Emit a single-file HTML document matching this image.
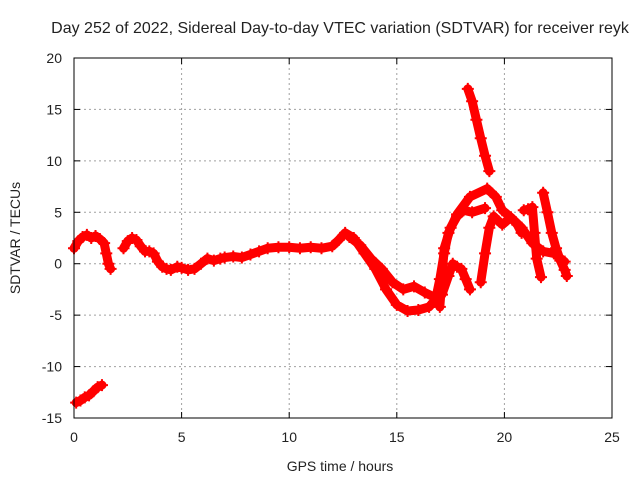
<!DOCTYPE html>
<html><head><meta charset="utf-8"><style>
body{margin:0;background:#fff;}
svg text{font-family:"Liberation Sans",Arial,sans-serif;font-size:14px;fill:#222;}
</style></head><body>
<svg id="chart" width="640" height="480">
<text x="340" y="33" text-anchor="middle" style="font-size:16px">Day 252 of 2022, Sidereal Day-to-day VTEC variation (SDTVAR) for receiver reyk</text>
<text x="340" y="471" text-anchor="middle">GPS time / hours</text>
<text transform="translate(20,238) rotate(-90)" text-anchor="middle">SDTVAR / TECUs</text>
<g id="grid"></g><g id="data"></g><g id="axes"></g>
</svg>
<script>
const xTicks=[0,5,10,15,20,25];
const yTicks=[-15,-10,-5,0,5,10,15,20];
const trackEarlyH=[0,0.2,0.4,0.6,0.8,1.0,1.2,1.4,1.5,1.6,1.7];
const trackEarlyV=[1.5,2.2,2.6,2.8,2.5,2.7,2.4,2.0,1.0,0,-0.5];
const trackMainH=[2.3,2.5,2.7,2.9,3.1,3.3,3.5,3.7,3.9,4.1,4.3,4.5,4.8,5.0,5.3,5.6,5.9,6.2,6.5,6.8,7.0,7.4,7.8,8.2,8.6,9.0,9.5,10,10.5,11,11.5,12,12.3,12.6,13.0,13.5,14.0,14.5,15.0,15.5,16.0,16.5,16.8,17.0,17.2,17.4,17.8,18.4,19.2,19.6,19.9,20.3,20.8,21.3,21.8,22.3,22.8];
const trackMainV=[1.5,2.2,2.5,2.3,1.7,1.2,1.2,1.0,0.2,-0.3,-0.5,-0.6,-0.3,-0.4,-0.6,-0.5,0,0.5,0.3,0.5,0.6,0.7,0.6,0.9,1.2,1.5,1.6,1.6,1.5,1.6,1.5,1.7,2.3,3.0,2.5,1.0,-0.5,-2.5,-4.0,-4.6,-4.5,-4.2,-3.5,-1.5,1.0,3.0,4.8,6.5,7.3,6.5,5.2,4.5,3.5,2.0,1.2,1.0,0.2];
const trackUpperH=[12.8,13.3,13.8,14.3,14.8,15.3,15.8,16.3,16.8,17.1,17.4,17.6,17.8,18.0,18.2,18.4];
const trackUpperV=[2.6,1.8,0.5,-0.5,-1.8,-2.5,-2.2,-2.8,-3.3,-3.0,-1.2,0,-0.3,-0.5,-1.5,-2.5];
const trackMidH=[17.0,17.2,17.5,17.8,18.1,18.5,19.1];
const trackMidV=[-4.2,1.5,3.5,4.6,5.2,5.0,5.4];
const trackSpikeH=[18.3,18.5,18.7,18.9,19.1,19.3];
const trackSpikeV=[17.0,15.8,14.0,12.2,10.5,9.0];
const trackLateH=[18.9,19.1,19.3,19.5,19.9,20.3,20.6,20.8];
const trackLateV=[-1.8,1.0,3.5,4.6,3.8,4.5,3.8,3.0];
const trackLate2H=[20.9,21.1,21.3,21.4,21.5,21.7];
const trackLate2V=[5.2,5.3,5.5,3.0,0.5,-1.3];
const trackRightH=[21.8,22.0,22.2,22.4,22.6,22.8,22.9];
const trackRightV=[6.9,5.0,3.0,1.5,0.3,-0.6,-1.2];
const trackLowH=[0.1,0.3,0.5,0.7,0.9,1.1,1.3];
const trackLowV=[-13.5,-13.3,-13.0,-12.8,-12.4,-12.0,-11.8];

const X0=74,X1=612,Y0=418,Y1=58;
const sx=h=>X0+(h-0)/(25-0)*(X1-X0);
const sy=v=>Y0-(v+15)/35*(Y0-Y1);
const NS='http://www.w3.org/2000/svg';
function mk(t,a,p){const e=document.createElementNS(NS,t);for(const k in a)e.setAttribute(k,a[k]);p.appendChild(e);return e;}
const grid=document.getElementById('grid'),axes=document.getElementById('axes'),data=document.getElementById('data');
xTicks.forEach(t=>{
  if(t>0&&t<25){const l=mk('line',{x1:sx(t),x2:sx(t),y1:Y1,y2:Y0,stroke:'#a0a0a0','stroke-dasharray':'2,3'},grid);
  
  }
  mk('line',{x1:sx(t),x2:sx(t),y1:Y0,y2:Y0-6,stroke:'#000'},axes);
  mk('line',{x1:sx(t),x2:sx(t),y1:Y1,y2:Y1+6,stroke:'#000'},axes);
  const tx=mk('text',{x:sx(t),y:Y0+24,'text-anchor':'middle'},axes);tx.textContent=t;
  
  
});
yTicks.forEach(t=>{
  if(t>-15&&t<20){const l=mk('line',{x1:X0,x2:X1,y1:sy(t),y2:sy(t),stroke:'#a0a0a0','stroke-dasharray':'2,3'},grid);
  
  }
  mk('line',{x1:X0,x2:X0+6,y1:sy(t),y2:sy(t),stroke:'#000'},axes);
  mk('line',{x1:X1,x2:X1-6,y1:sy(t),y2:sy(t),stroke:'#000'},axes);
  const tx=mk('text',{x:X0-12,y:sy(t)+5,'text-anchor':'end'},axes);tx.textContent=t;
  
  
});
const box=mk('rect',{x:X0,y:Y1,width:X1-X0,height:Y0-Y1,fill:'none',stroke:'#000'},axes);


const tracks=[[trackEarlyH,trackEarlyV],[trackMainH,trackMainV],[trackUpperH,trackUpperV],[trackMidH,trackMidV],[trackSpikeH,trackSpikeV],[trackLateH,trackLateV],[trackLate2H,trackLate2V],[trackRightH,trackRightV],[trackLowH,trackLowV]];
tracks.forEach(([H,V])=>{
  const pts=H.map((h,i)=>sx(h)+','+sy(V[i])).join(' ');
  const pl=mk('polyline',{points:pts,fill:'none',stroke:'#ff0000','stroke-width':9,'stroke-linejoin':'round','stroke-linecap':'round'},data);
  
  
  H.forEach((h,i)=>{
    const x=sx(h),y=sy(V[i]);
    const p=mk('path',{d:`M${x-6},${y}H${x+6}M${x},${y-6}V${y+6}`,stroke:'#ff0000','stroke-width':2},data);
    
    
  });
});
</script>
</body></html>
